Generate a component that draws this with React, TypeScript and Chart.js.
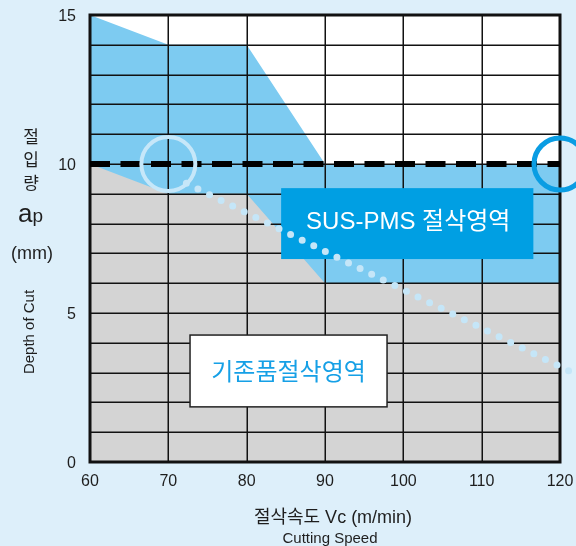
import React, { useEffect, useRef } from "react";
import { Chart, registerables } from "chart.js";

Chart.register(...registerables);

// ---- data ----
const speedMin = 60;
const speedMax = 120;
const depthMin = 0;
const depthMax = 15;

const susZoneX = [60, 70, 80, 90, 120];
const susZoneTop = [15, 14, 14, 10, 10];
const baseZoneX = [60, 70, 80, 90, 120];
const baseZoneTop = [10, 9, 9, 6, 6];
const limitLineX = [60, 120];
const limitLineY = [10, 10];
const trendX = [72.3, 121.8];
const trendY = [9.35, 2.97];
const markerLeft = { x: 70, y: 10 };
const markerRight = { x: 120, y: 10 };

const susLabel = "SUS-PMS 절삭영역";
const baseLabel = "기존품절삭영역";
const xTitle = "절삭속도 Vc (m/min)";
const xSubTitle = "Cutting Speed";
const yTitleChars = ["절", "입", "량"];
const yUnit = "(mm)";
const ySubTitle = "Depth of Cut";

const toPts = (xs: number[], ys: number[]) => xs.map((x, i) => ({ x, y: ys[i] }));

const FONT = '"Liberation Sans", "Noto Sans CJK KR", sans-serif';
const KFONT = '"Noto Sans CJK KR", "Liberation Sans", sans-serif';
const TEXT = "#1e1e1e";

const gridPlugin = {
  id: "gridBetween",
  beforeDatasetsDraw(chart: any) {
    const { ctx, chartArea: a } = chart;
    ctx.save();
    ctx.fillStyle = "#ffffff";
    ctx.fillRect(a.left, a.top, a.right - a.left, a.bottom - a.top);
    ctx.restore();
  },
  afterDatasetDraw(chart: any, args: any) {
    if (args.meta?._dataset?.label !== "base") return;
    const { ctx, chartArea: a } = chart;
    const xs = chart.scales.x;
    const ys = chart.scales.y;
    ctx.save();
    ctx.strokeStyle = "#111";
    ctx.lineWidth = 1.5;
    ys.ticks.forEach((t: any) => {
      const py = Math.round(ys.getPixelForValue(t.value)) + 0.25;
      ctx.beginPath();
      ctx.moveTo(a.left, py);
      ctx.lineTo(a.right, py);
      ctx.stroke();
    });
    xs.ticks.forEach((t: any) => {
      const px = Math.round(xs.getPixelForValue(t.value)) + 0.25;
      ctx.beginPath();
      ctx.moveTo(px, a.top);
      ctx.lineTo(px, a.bottom);
      ctx.stroke();
    });
    ctx.lineWidth = 3;
    ctx.strokeRect(a.left, a.top, a.right - a.left, a.bottom - a.top);

    // SUS-PMS box (under the dotted trend)
    const bx1 = xs.getPixelForValue(84.4), bx2 = xs.getPixelForValue(116.6);
    const by1 = ys.getPixelForValue(9.19), by2 = ys.getPixelForValue(6.81);
    ctx.fillStyle = "#009fe3";
    ctx.fillRect(bx1, by1, bx2 - bx1, by2 - by1);
    ctx.fillStyle = "#ffffff";
    ctx.font = `24px ${FONT}`;
    ctx.textAlign = "center";
    ctx.textBaseline = "middle";
    ctx.fillText(susLabel, (bx1 + bx2) / 2 + 1, (by1 + by2) / 2 - 1);

    // base box
    const wx1 = xs.getPixelForValue(72.77), wx2 = xs.getPixelForValue(97.92);
    const wy1 = ys.getPixelForValue(4.26), wy2 = ys.getPixelForValue(1.85);
    ctx.fillStyle = "#ffffff";
    ctx.fillRect(wx1, wy1, wx2 - wx1, wy2 - wy1);
    ctx.strokeStyle = "#222";
    ctx.lineWidth = 1.5;
    ctx.strokeRect(wx1, wy1, wx2 - wx1, wy2 - wy1);
    ctx.fillStyle = "#16a0e6";
    ctx.font = `24px ${KFONT}`;
    ctx.fillText(baseLabel, (wx1 + wx2) / 2, (wy1 + wy2) / 2);
    ctx.restore();
  },
};

const textPlugin = {
  id: "texts",
  afterDraw(chart: any) {
    const { ctx } = chart;
    ctx.save();
    ctx.textAlign = "center";
    ctx.textBaseline = "middle";
    // y title
    ctx.fillStyle = TEXT;
    ctx.font = `17px ${KFONT}`;
    const ty = [137, 159.5, 182.5];
    yTitleChars.forEach((c, i) => ctx.fillText(c, 31, ty[i]));
    ctx.textAlign = "left";
    ctx.textBaseline = "alphabetic";
    ctx.font = `26px ${FONT}`;
    ctx.fillText("a", 18, 222);
    const aw = ctx.measureText("a").width;
    ctx.font = `19px ${FONT}`;
    ctx.fillText("p", 18 + aw, 222);
    ctx.textAlign = "center";
    ctx.textBaseline = "middle";
    ctx.font = `18px ${FONT}`;
    ctx.fillText(yUnit, 32, 254);
    ctx.save();
    ctx.translate(29.5, 332);
    ctx.rotate(-Math.PI / 2);
    ctx.font = `15px ${FONT}`;
    ctx.fillText(ySubTitle, 0, 0);
    ctx.restore();

    // x title
    ctx.font = `18px ${FONT}`;
    ctx.fillText(xTitle, 333, 518);
    ctx.font = `15px ${FONT}`;
    ctx.fillText(xSubTitle, 330, 539);
    ctx.restore();
  },
};

const noPad = (s: any) => {
  s.paddingLeft = 0;
  s.paddingRight = 0;
  s.paddingTop = 0;
  s.paddingBottom = 0;
};

export default function App() {
  const ref = useRef<HTMLCanvasElement>(null);
  useEffect(() => {
    if (!ref.current) return;
    const chart = new Chart(ref.current, {
      type: "line",
      data: {
        datasets: [
          {
            label: "sus",
            data: toPts(susZoneX, susZoneTop),
            fill: "origin",
            backgroundColor: "#7dcbf1",
            borderWidth: 0,
            pointRadius: 0,
            order: 10,
          } as any,
          {
            label: "base",
            data: toPts(baseZoneX, baseZoneTop),
            fill: "origin",
            backgroundColor: "#d4d4d4",
            borderWidth: 0,
            pointRadius: 0,
            order: 9,
          },
          {
            label: "limit",
            data: toPts(limitLineX, limitLineY),
            fill: false,
            borderColor: "#000",
            borderWidth: 6,
            borderDash: [20, 10.5],
            pointRadius: 0,
            order: 4,
          },
          {
            label: "trend",
            data: toPts(trendX, trendY),
            fill: false,
            borderColor: "#c5e6f8",
            borderWidth: 7,
            borderDash: [0, 12.9],
            borderCapStyle: "round",
            pointRadius: 0,
            clip: false,
            order: 3,
          } as any,
          {
            label: "markL",
            data: [markerLeft],
            showLine: false,
            pointRadius: 27,
            pointBorderWidth: 4,
            pointBorderColor: "#c6e7f9",
            pointBackgroundColor: "rgba(0,0,0,0)",
            clip: false,
            order: 2,
          } as any,
          {
            label: "markR",
            data: [markerRight],
            showLine: false,
            pointRadius: 26,
            pointBorderWidth: 5,
            pointBorderColor: "#0a9de3",
            pointBackgroundColor: "rgba(0,0,0,0)",
            clip: false,
            order: 1,
          } as any,
        ],
      },
      options: {
        responsive: false,
        animation: false,
        devicePixelRatio: 1,
        layout: { autoPadding: false, padding: { top: 15, right: 16, left: 0, bottom: 0 } },
        plugins: { legend: { display: false }, tooltip: { enabled: false } },
        elements: { line: { tension: 0 } },
        scales: {
          x: {
            type: "linear",
            min: speedMin,
            max: speedMax,
            afterFit: (s: any) => { s.height = 84; noPad(s); },
            grid: { display: false, drawTicks: false },
            border: { display: false },
            ticks: {
              stepSize: 10,
              padding: 10,
              color: TEXT,
              font: { family: FONT, size: 16 },
              maxRotation: 0,
              autoSkip: false,
            },
          },
          y: {
            type: "linear",
            min: depthMin,
            max: depthMax,
            afterFit: (s: any) => { s.width = 90; noPad(s); },
            grid: { display: false, drawTicks: false },
            border: { display: false },
            ticks: {
              stepSize: 1,
              padding: 14,
              labelOffset: 2,
              color: TEXT,
              font: { family: FONT, size: 16 },
              autoSkip: false,
              callback: (v: any) => (Number(v) % 5 === 0 ? String(v) : ""),
            },
          },
        },
      },
      plugins: [gridPlugin, textPlugin],
    });
    return () => chart.destroy();
  }, []);
  return (
    <div style={{ position: "absolute", left: 0, top: 0, width: 576, height: 546, background: "#ddeffa" }}>
      <canvas ref={ref} width={576} height={546} style={{ display: "block" }} />
    </div>
  );
}
